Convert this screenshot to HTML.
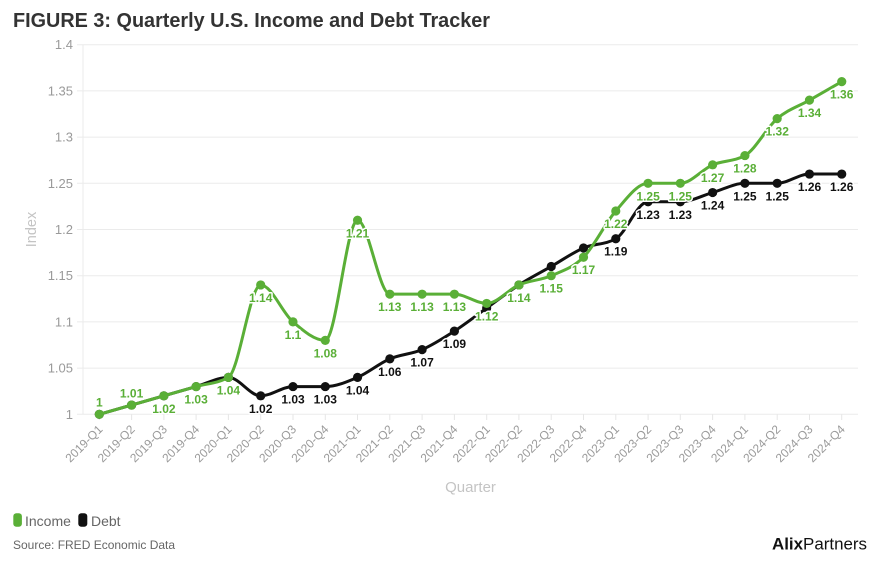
<!DOCTYPE html>
<html>
<head>
<meta charset="utf-8">
<style>
  html, body { margin: 0; padding: 0; background: #ffffff; }
  body { width: 874px; height: 563px; overflow: hidden; font-family: "Liberation Sans", Arial, sans-serif; }
  svg { display: block; }
  .ytl { font-size: 13px; fill: #9a9a9a; text-anchor: end; }
  .xtl { font-size: 12px; fill: #9a9a9a; text-anchor: end; }
  .lg { font-size: 12px; font-weight: bold; text-anchor: middle; paint-order: stroke; stroke: #ffffff; stroke-width: 3px; stroke-linejoin: round; }
  .lg.g { fill: #5aaf37; }
  .lg.b { fill: #111111; }
</style>
</head>
<body>
<svg id="chart" width="874" height="563" viewBox="0 0 874 563" xmlns="http://www.w3.org/2000/svg">
  <!-- Title -->
  <text x="13" y="27" font-size="20" font-weight="bold" fill="#333333" textLength="477" lengthAdjust="spacingAndGlyphs">FIGURE 3: Quarterly U.S. Income and Debt Tracker</text>

  <!-- Gridlines -->
  <g stroke="#ebebeb" stroke-width="1">
    <line x1="77" y1="44.7" x2="858" y2="44.7"/>
    <line x1="77" y1="90.9" x2="858" y2="90.9"/>
    <line x1="77" y1="137.1" x2="858" y2="137.1"/>
    <line x1="77" y1="183.3" x2="858" y2="183.3"/>
    <line x1="77" y1="229.5" x2="858" y2="229.5"/>
    <line x1="77" y1="275.7" x2="858" y2="275.7"/>
    <line x1="77" y1="321.9" x2="858" y2="321.9"/>
    <line x1="77" y1="368.1" x2="858" y2="368.1"/>
    <line x1="77" y1="414.3" x2="858" y2="414.3"/>
    <line x1="83" y1="44.7" x2="83" y2="414.3"/>
  </g>
  <!-- x ticks -->
  <g stroke="#e6e6e6" stroke-width="1">
    <line x1="99.3" y1="414.3" x2="99.3" y2="420"/><line x1="131.6" y1="414.3" x2="131.6" y2="420"/>
    <line x1="163.9" y1="414.3" x2="163.9" y2="420"/><line x1="196.1" y1="414.3" x2="196.1" y2="420"/>
    <line x1="228.4" y1="414.3" x2="228.4" y2="420"/><line x1="260.7" y1="414.3" x2="260.7" y2="420"/>
    <line x1="293.0" y1="414.3" x2="293.0" y2="420"/><line x1="325.3" y1="414.3" x2="325.3" y2="420"/>
    <line x1="357.5" y1="414.3" x2="357.5" y2="420"/><line x1="389.8" y1="414.3" x2="389.8" y2="420"/>
    <line x1="422.1" y1="414.3" x2="422.1" y2="420"/><line x1="454.4" y1="414.3" x2="454.4" y2="420"/>
    <line x1="486.7" y1="414.3" x2="486.7" y2="420"/><line x1="518.9" y1="414.3" x2="518.9" y2="420"/>
    <line x1="551.2" y1="414.3" x2="551.2" y2="420"/><line x1="583.5" y1="414.3" x2="583.5" y2="420"/>
    <line x1="615.8" y1="414.3" x2="615.8" y2="420"/><line x1="648.1" y1="414.3" x2="648.1" y2="420"/>
    <line x1="680.3" y1="414.3" x2="680.3" y2="420"/><line x1="712.6" y1="414.3" x2="712.6" y2="420"/>
    <line x1="744.9" y1="414.3" x2="744.9" y2="420"/><line x1="777.2" y1="414.3" x2="777.2" y2="420"/>
    <line x1="809.5" y1="414.3" x2="809.5" y2="420"/><line x1="841.7" y1="414.3" x2="841.7" y2="420"/>
  </g>

  <!-- Y tick labels -->
  <text class="ytl" x="73" y="49.2">1.4</text>
  <text class="ytl" x="73" y="95.4">1.35</text>
  <text class="ytl" x="73" y="141.6">1.3</text>
  <text class="ytl" x="73" y="187.8">1.25</text>
  <text class="ytl" x="73" y="234.0">1.2</text>
  <text class="ytl" x="73" y="280.2">1.15</text>
  <text class="ytl" x="73" y="326.4">1.1</text>
  <text class="ytl" x="73" y="372.6">1.05</text>
  <text class="ytl" x="73" y="418.8">1</text>

  <!-- Y axis title -->
  <text x="36" y="229.5" font-size="14.5" fill="#c4c4c4" text-anchor="middle" transform="rotate(-90 36 229.5)">Index</text>

  <!-- X tick labels -->
  <g>
    <text class="xtl" transform="translate(103.3,430) rotate(-45)">2019-Q1</text>
    <text class="xtl" transform="translate(135.6,430) rotate(-45)">2019-Q2</text>
    <text class="xtl" transform="translate(167.9,430) rotate(-45)">2019-Q3</text>
    <text class="xtl" transform="translate(200.1,430) rotate(-45)">2019-Q4</text>
    <text class="xtl" transform="translate(232.4,430) rotate(-45)">2020-Q1</text>
    <text class="xtl" transform="translate(264.7,430) rotate(-45)">2020-Q2</text>
    <text class="xtl" transform="translate(297.0,430) rotate(-45)">2020-Q3</text>
    <text class="xtl" transform="translate(329.3,430) rotate(-45)">2020-Q4</text>
    <text class="xtl" transform="translate(361.5,430) rotate(-45)">2021-Q1</text>
    <text class="xtl" transform="translate(393.8,430) rotate(-45)">2021-Q2</text>
    <text class="xtl" transform="translate(426.1,430) rotate(-45)">2021-Q3</text>
    <text class="xtl" transform="translate(458.4,430) rotate(-45)">2021-Q4</text>
    <text class="xtl" transform="translate(490.7,430) rotate(-45)">2022-Q1</text>
    <text class="xtl" transform="translate(522.9,430) rotate(-45)">2022-Q2</text>
    <text class="xtl" transform="translate(555.2,430) rotate(-45)">2022-Q3</text>
    <text class="xtl" transform="translate(587.5,430) rotate(-45)">2022-Q4</text>
    <text class="xtl" transform="translate(619.8,430) rotate(-45)">2023-Q1</text>
    <text class="xtl" transform="translate(652.1,430) rotate(-45)">2023-Q2</text>
    <text class="xtl" transform="translate(684.3,430) rotate(-45)">2023-Q3</text>
    <text class="xtl" transform="translate(716.6,430) rotate(-45)">2023-Q4</text>
    <text class="xtl" transform="translate(748.9,430) rotate(-45)">2024-Q1</text>
    <text class="xtl" transform="translate(781.2,430) rotate(-45)">2024-Q2</text>
    <text class="xtl" transform="translate(813.5,430) rotate(-45)">2024-Q3</text>
    <text class="xtl" transform="translate(845.7,430) rotate(-45)">2024-Q4</text>
  </g>

  <!-- X axis title -->
  <text x="470.5" y="492" font-size="15" fill="#c4c4c4" text-anchor="middle">Quarter</text>

  <!-- Series (paths filled by script; polyline fallback) -->
  <g id="series"></g>

  <!-- Debt labels -->
  <g>
    <text class="lg b" x="260.7" y="412.8">1.02</text>
    <text class="lg b" x="293.0" y="403.6">1.03</text>
    <text class="lg b" x="325.3" y="403.6">1.03</text>
    <text class="lg b" x="357.5" y="394.3">1.04</text>
    <text class="lg b" x="389.8" y="375.9">1.06</text>
    <text class="lg b" x="422.1" y="366.6">1.07</text>
    <text class="lg b" x="454.4" y="348.1">1.09</text>
    <text class="lg b" x="615.8" y="255.7">1.19</text>
    <text class="lg b" x="648.1" y="218.8">1.23</text>
    <text class="lg b" x="680.3" y="218.8">1.23</text>
    <text class="lg b" x="712.6" y="209.5">1.24</text>
    <text class="lg b" x="744.9" y="200.3">1.25</text>
    <text class="lg b" x="777.2" y="200.3">1.25</text>
    <text class="lg b" x="809.5" y="191.1">1.26</text>
    <text class="lg b" x="841.7" y="191.1">1.26</text>
  </g>
  <!-- Income labels -->
  <g>
    <text class="lg g" x="99.3" y="406.6">1</text>
    <text class="lg g" x="131.6" y="397.4">1.01</text>
    <text class="lg g" x="163.9" y="412.8">1.02</text>
    <text class="lg g" x="196.1" y="403.6">1.03</text>
    <text class="lg g" x="228.4" y="394.3">1.04</text>
    <text class="lg g" x="260.7" y="302.0">1.14</text>
    <text class="lg g" x="293.0" y="338.9">1.1</text>
    <text class="lg g" x="325.3" y="357.4">1.08</text>
    <text class="lg g" x="357.5" y="237.3">1.21</text>
    <text class="lg g" x="389.8" y="311.2">1.13</text>
    <text class="lg g" x="422.1" y="311.2">1.13</text>
    <text class="lg g" x="454.4" y="311.2">1.13</text>
    <text class="lg g" x="486.7" y="320.4">1.12</text>
    <text class="lg g" x="518.9" y="302.0">1.14</text>
    <text class="lg g" x="551.2" y="292.7">1.15</text>
    <text class="lg g" x="583.5" y="274.2">1.17</text>
    <text class="lg g" x="615.8" y="228.0">1.22</text>
    <text class="lg g" x="648.1" y="200.3">1.25</text>
    <text class="lg g" x="680.3" y="200.3">1.25</text>
    <text class="lg g" x="712.6" y="181.8">1.27</text>
    <text class="lg g" x="744.9" y="172.6">1.28</text>
    <text class="lg g" x="777.2" y="135.6">1.32</text>
    <text class="lg g" x="809.5" y="117.1">1.34</text>
    <text class="lg g" x="841.7" y="98.7">1.36</text>
  </g>

  <!-- Legend -->
  <rect x="13.3" y="513.3" width="8.6" height="13.4" rx="3" fill="#5aaf37"/>
  <text x="25" y="526" font-size="14" fill="#666666">Income</text>
  <rect x="78.3" y="513.3" width="9" height="13.4" rx="3" fill="#111111"/>
  <text x="91" y="526" font-size="14" fill="#666666">Debt</text>

  <!-- Source -->
  <text x="13" y="549" font-size="12" fill="#666666">Source: FRED Economic Data</text>

  <!-- Logo -->
  <text x="772" y="549.3" font-size="17" fill="#111111" textLength="95" lengthAdjust="spacingAndGlyphs"><tspan font-weight="bold">Alix</tspan>Partners</text>
</svg>

<script>
(function(){
  var NS = "http://www.w3.org/2000/svg";
  var X = function(i){ return 99.3 + i*32.28; };
  var Y = function(v){ return 414.3 - (v-1)*924; };
  var income = [1,1.01,1.02,1.03,1.04,1.14,1.10,1.08,1.21,1.13,1.13,1.13,1.12,1.14,1.15,1.17,1.22,1.25,1.25,1.27,1.28,1.32,1.34,1.36];
  var debt   = [1,1.01,1.02,1.03,1.04,1.02,1.03,1.03,1.04,1.06,1.07,1.09,1.115,1.14,1.16,1.18,1.19,1.23,1.23,1.24,1.25,1.25,1.26,1.26];
  function sign(x){ return x < 0 ? -1 : 1; }
  function monotonePath(pts){
    var n = pts.length, t = new Array(n), i;
    for (i = 1; i < n-1; i++){
      var x0=pts[i-1][0], y0=pts[i-1][1], x1=pts[i][0], y1=pts[i][1], x2=pts[i+1][0], y2=pts[i+1][1];
      var h0=x1-x0, h1=x2-x1, s0=(y1-y0)/h0, s1=(y2-y1)/h1, p=(s0*h1+s1*h0)/(h0+h1);
      t[i] = (sign(s0)+sign(s1))*Math.min(Math.abs(s0),Math.abs(s1),0.5*Math.abs(p)) || 0;
    }
    var h = pts[1][0]-pts[0][0];
    t[0] = (3*(pts[1][1]-pts[0][1])/h - t[1])/2;
    h = pts[n-1][0]-pts[n-2][0];
    t[n-1] = (3*(pts[n-1][1]-pts[n-2][1])/h - t[n-2])/2;
    var d = "M" + pts[0][0].toFixed(2) + "," + pts[0][1].toFixed(2);
    for (i = 0; i < n-1; i++){
      var a = pts[i], b = pts[i+1], dx = (b[0]-a[0])/3;
      d += "C" + (a[0]+dx).toFixed(2) + "," + (a[1]+dx*t[i]).toFixed(2) + " " +
                 (b[0]-dx).toFixed(2) + "," + (b[1]-dx*t[i+1]).toFixed(2) + " " +
                 b[0].toFixed(2) + "," + b[1].toFixed(2);
    }
    return d;
  }
  var g = document.getElementById("series");
  function draw(vals, color){
    var pts = vals.map(function(v,i){ return [X(i), Y(v)]; });
    var p = document.createElementNS(NS, "path");
    p.setAttribute("d", monotonePath(pts));
    p.setAttribute("fill", "none");
    p.setAttribute("stroke", color);
    p.setAttribute("stroke-width", "3");
    p.setAttribute("stroke-linejoin", "round");
    p.setAttribute("stroke-linecap", "round");
    g.appendChild(p);
    pts.forEach(function(pt){
      var c = document.createElementNS(NS, "circle");
      c.setAttribute("cx", pt[0]); c.setAttribute("cy", pt[1]);
      c.setAttribute("r", "4.6"); c.setAttribute("fill", color);
      g.appendChild(c);
    });
  }
  draw(debt, "#111111");
  draw(income, "#5aaf37");
})();
</script>
</body>
</html>
